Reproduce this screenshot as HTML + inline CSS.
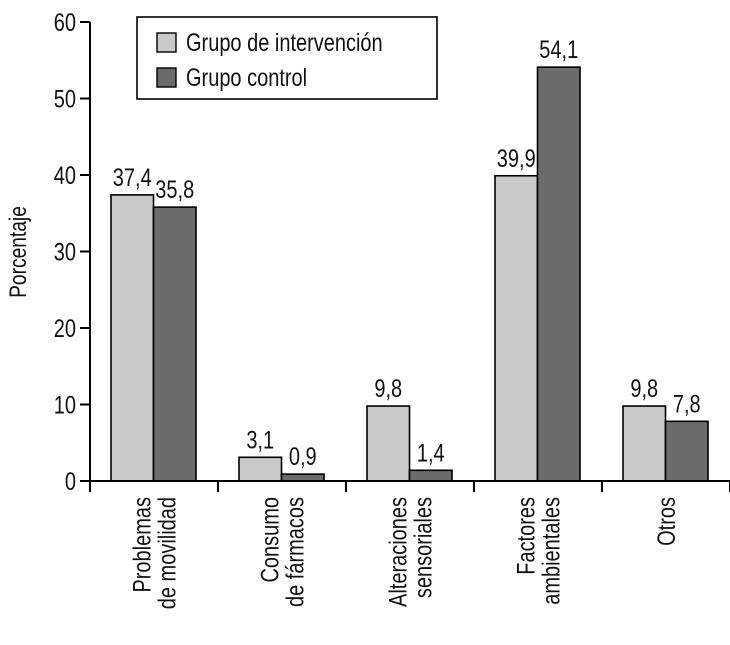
<!DOCTYPE html>
<html><head><meta charset="utf-8"><style>
body{margin:0;background:#fff;}
svg text{font-family:"Liberation Sans",sans-serif;fill:#111;}
</style></head><body>
<svg id="chart" width="730" height="640" viewBox="0 0 730 640" xmlns="http://www.w3.org/2000/svg"></svg>
<script>
const categories = [["Problemas","de movilidad"],["Consumo","de fármacos"],["Alteraciones","sensoriales"],["Factores","ambientales"],["Otros"]];
const intervention = [37.4, 3.1, 9.8, 39.9, 9.8];
const control = [35.8, 0.9, 1.4, 54.1, 7.8];
const interventionLabels = ["37,4","3,1","9,8","39,9","9,8"];
const controlLabels = ["35,8","0,9","1,4","54,1","7,8"];
const yTicks = [0,10,20,30,40,50,60];

const svg = document.getElementById('chart');
const NS = 'http://www.w3.org/2000/svg';
const x0 = 90, y0 = 481, yTop = 22, groupW = 128, barW = 42.5, groupOff = 21;
const SX = 0.8, FS = 25;
const y = v => y0 - (v/60)*(y0-yTop);
const gx = i => x0 + i*groupW;
function mk(tag, attrs, parent){const e=document.createElementNS(NS,tag);for(const k in attrs)e.setAttribute(k,attrs[k]);(parent||svg).appendChild(e);return e;}
function txt(x, yy, s, anchor, parent){
  const e = mk('text',{transform:`translate(${x},${yy}) scale(${SX},1)`,'text-anchor':anchor,'font-size':FS},parent);
  e.textContent = s;
  return e;
}

// y axis
const yAxis = mk('line',{x1:x0,y1:yTop,x2:x0,y2:y0,stroke:'#000','stroke-width':2});


yTicks.forEach(t=>{
  const l = mk('line',{x1:x0-10,y1:y(t),x2:x0,y2:y(t),stroke:'#000','stroke-width':2});
  
  
  const tx = txt(x0-14, y(t)+9, String(t), 'end');
  
  
});
const yt = mk('text',{transform:'translate(26,252) rotate(-90) scale(0.8,1)','text-anchor':'middle','font-size':24});
yt.textContent='Porcentaje';



// bars
categories.forEach((c,i)=>{
  const bx = gx(i)+groupOff;
  const r1 = mk('rect',{x:bx,y:y(intervention[i]),width:barW,height:y0-y(intervention[i]),fill:'#c9c9c9',stroke:'#000','stroke-width':1.6});
  
  
  const r2 = mk('rect',{x:bx+barW,y:y(control[i]),width:barW,height:y0-y(control[i]),fill:'#6b6b6b',stroke:'#000','stroke-width':1.6});
  
  
  const t1 = txt(bx+barW/2, y(intervention[i])-9, interventionLabels[i], 'middle');
  
  
  const t2 = txt(bx+barW*1.5, y(control[i])-9, controlLabels[i], 'middle');
  
  
  const cx = gx(i)+groupW/2;
  const lines = c.length;
  const ct = mk('text',{transform:`translate(${cx},${y0+16}) rotate(-90) scale(${SX},1)`,'text-anchor':'end','font-size':FS});
  
  
  c.forEach((s,j)=>{
    const ts = mk('tspan',{x:0,y:(j-(lines-1)/2)*25+9},ct);
    ts.textContent = s;
  });
});

// x axis
const xAxis = mk('line',{x1:x0,y1:y0,x2:730,y2:y0,stroke:'#000','stroke-width':2});


for(let i=0;i<=5;i++){
  const l = mk('line',{x1:gx(i),y1:y0,x2:gx(i),y2:y0+11,stroke:'#000','stroke-width':2});
  
  
}

// legend
const lg = mk('g',{});


mk('rect',{x:137,y:17,width:300,height:82,fill:'#fff',stroke:'#000','stroke-width':1.6},lg);
const lr1 = mk('rect',{x:157,y:33,width:19,height:19,fill:'#c9c9c9',stroke:'#000','stroke-width':1.4},lg);


const lt1 = txt(186, 51, 'Grupo de intervención', 'start', lg);


const lr2 = mk('rect',{x:157,y:68,width:19,height:19,fill:'#6b6b6b',stroke:'#000','stroke-width':1.4},lg);


const lt2 = txt(186, 86, 'Grupo control', 'start', lg);


</script>
</body></html>
